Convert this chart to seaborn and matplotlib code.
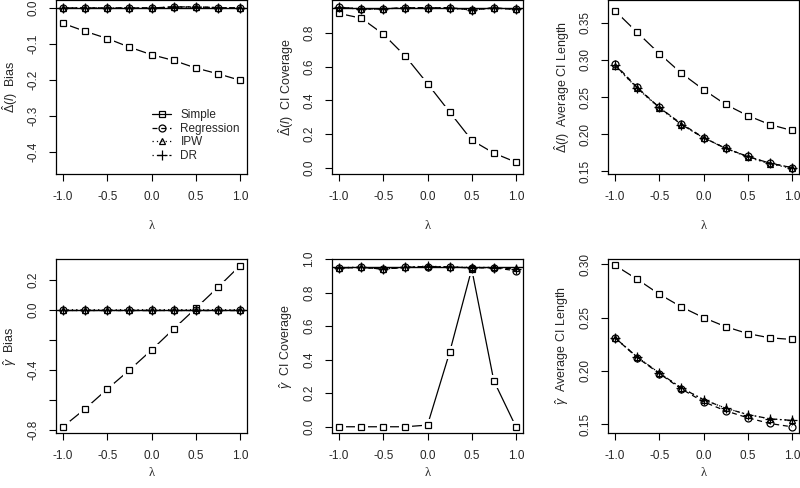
import numpy as np
import pandas as pd
import matplotlib
matplotlib.use("Agg")
import matplotlib.pyplot as plt
import seaborn as sns

lam = [-1.0, -0.75, -0.5, -0.25, 0.0, 0.25, 0.5, 0.75, 1.0]
methods = ["Simple", "Regression", "IPW", "DR"]

# Delta(l) bias
d_bias_simple = [-0.043, -0.065, -0.085, -0.109, -0.130, -0.146, -0.167, -0.183, -0.201]
d_bias_reg = [0.0, 0.0, 0.0, 0.0, 0.0, 0.003, 0.003, 0.001, 0.0]
d_bias_ipw = [0.0, 0.0, 0.0, 0.0, 0.0, 0.002, 0.002, 0.001, 0.0]
d_bias_dr = [0.0, 0.0, 0.0, 0.0, 0.0, 0.003, 0.003, 0.001, 0.0]

# Delta(l) CI coverage
d_cov_simple = [0.918, 0.890, 0.795, 0.663, 0.500, 0.331, 0.163, 0.086, 0.032]
d_cov_reg = [0.955, 0.945, 0.945, 0.952, 0.952, 0.952, 0.940, 0.952, 0.943]
d_cov_ipw = [0.953, 0.944, 0.946, 0.951, 0.951, 0.950, 0.938, 0.950, 0.942]
d_cov_dr = [0.955, 0.945, 0.945, 0.952, 0.952, 0.951, 0.940, 0.951, 0.943]

# Delta(l) average CI length
d_len_simple = [0.366, 0.337, 0.3085, 0.282, 0.260, 0.240, 0.225, 0.213, 0.205]
d_len_reg = [0.294, 0.263, 0.236, 0.214, 0.1955, 0.181, 0.170, 0.161, 0.155]
d_len_ipw = [0.292, 0.262, 0.235, 0.213, 0.195, 0.181, 0.169, 0.160, 0.154]
d_len_dr = [0.293, 0.262, 0.236, 0.213, 0.195, 0.181, 0.170, 0.161, 0.155]

# gamma bias
g_bias_simple = [-0.777, -0.658, -0.527, -0.401, -0.268, -0.128, 0.009, 0.148, 0.292]
g_bias_reg = [0.0, 0.0, 0.0, 0.0, 0.0, 0.0, 0.0, 0.0, 0.0]
g_bias_ipw = [0.0, 0.0, 0.0, 0.0, 0.0, 0.001, 0.0, 0.0, 0.0]
g_bias_dr = [0.0, 0.0, 0.0, 0.0, 0.0, 0.0, 0.0, 0.0, 0.0]

# gamma CI coverage
g_cov_simple = [0.0, 0.0, 0.0, 0.0, 0.01, 0.443, 0.940, 0.274, 0.0]
g_cov_reg = [0.945, 0.950, 0.940, 0.950, 0.955, 0.952, 0.947, 0.948, 0.930]
g_cov_ipw = [0.948, 0.952, 0.942, 0.952, 0.957, 0.953, 0.950, 0.950, 0.945]
g_cov_dr = [0.946, 0.950, 0.940, 0.950, 0.956, 0.952, 0.948, 0.949, 0.940]

# gamma average CI length
g_len_simple = [0.299, 0.286, 0.272, 0.260, 0.250, 0.2415, 0.235, 0.231, 0.2295]
g_len_reg = [0.231, 0.2125, 0.1975, 0.183, 0.171, 0.1625, 0.156, 0.1506, 0.1475]
g_len_ipw = [0.231, 0.213, 0.198, 0.184, 0.173, 0.165, 0.159, 0.155, 0.1535]
g_len_dr = [0.231, 0.213, 0.198, 0.184, 0.173, 0.165, 0.159, 0.155, 0.1535]

sns.set_style("ticks")
plt.rcParams["font.family"] = ["Liberation Sans", "DejaVu Sans"]
plt.rcParams["mathtext.fontset"] = "custom"
plt.rcParams["mathtext.rm"] = "Liberation Sans"
plt.rcParams["mathtext.it"] = "Liberation Sans:italic"

styles = {
    "Simple": dict(ls="-", marker="s"),
    "Regression": dict(ls=(0, (4, 3)), marker="o"),
    "IPW": dict(ls=(0, (1, 2.5)), marker="^"),
    "DR": dict(ls=(0, (1, 2.5, 4, 2.5)), marker="+"),
}

panels = [
    ([d_bias_simple, d_bias_reg, d_bias_ipw, d_bias_dr], r"$\hat{\Delta}(l)$  Bias",
     (-0.462, 0.023), [-0.4, -0.3, -0.2, -0.1, 0.0], ["-0.4", "-0.3", "-0.2", "-0.1", "0.0"], 0.0),
    ([d_cov_simple, d_cov_reg, d_cov_ipw, d_cov_dr], r"$\hat{\Delta}(l)$  CI Coverage",
     (-0.0385, 1.0), [0.0, 0.2, 0.4, 0.6, 0.8], ["0.0", "0.2", "0.4", "0.6", "0.8"], 0.95),
    ([d_len_simple, d_len_reg, d_len_ipw, d_len_dr], r"$\hat{\Delta}(l)$  Average CI Length",
     (0.1464, 0.381), [0.15, 0.20, 0.25, 0.30, 0.35], ["0.15", "0.20", "0.25", "0.30", "0.35"], None),
    ([g_bias_simple, g_bias_reg, g_bias_ipw, g_bias_dr], r"$\hat{\gamma}$  Bias",
     (-0.821, 0.337), [-0.8, -0.6, -0.4, -0.2, 0.0, 0.2], ["-0.8", "", "-0.4", "", "0.0", "0.2"], 0.0),
    ([g_cov_simple, g_cov_reg, g_cov_ipw, g_cov_dr], r"$\hat{\gamma}$  CI Coverage",
     (-0.039, 1.0), [0.0, 0.2, 0.4, 0.6, 0.8, 1.0], ["0.0", "0.2", "0.4", "0.6", "0.8", "1.0"], 0.95),
    ([g_len_simple, g_len_reg, g_len_ipw, g_len_dr], r"$\hat{\gamma}$  Average CI Length",
     (0.1414, 0.305), [0.15, 0.20, 0.25, 0.30], ["0.15", "0.20", "0.25", "0.30"], None),
]

fig = plt.figure(figsize=(8, 4.88), dpi=100)
W, H = 800, 488
lefts = [56, 332, 608]
bottoms = [174, 433.3]
xlab_y = [-0.298, -0.228]
aw, ah = 191, 174.3

for i, (series, ylab, ylim, yt, ytl, href) in enumerate(panels):
    r, c = divmod(i, 3)
    ax = fig.add_axes([lefts[c] / W, 1 - bottoms[r] / H, aw / W, ah / H])
    if href is not None:
        ax.axhline(href, color="black", lw=1.0, zorder=2)

    # Simple: R type="b" look -> line with small gaps around the squares
    simple = series[0]
    sns.lineplot(x=lam, y=simple, ax=ax, color="black", lw=0.9, zorder=1.5)
    sns.lineplot(x=lam, y=simple, ax=ax, color="white", linestyle="none", marker="s",
                 markersize=8.5, markerfacecolor="white", markeredgecolor="white", zorder=1.6)
    sns.lineplot(x=lam, y=simple, ax=ax, color="black", linestyle="none", marker="s",
                 markersize=5, markerfacecolor="none", markeredgecolor="black",
                 markeredgewidth=0.9, zorder=1.7)

    for name, vals in zip(methods[1:], series[1:]):
        st = styles[name]
        sns.lineplot(x=lam, y=vals, ax=ax, color="black", lw=0.9, linestyle=st["ls"],
                     marker=st["marker"], markersize=5 if name != "DR" else 7,
                     markerfacecolor="none", markeredgecolor="black", markeredgewidth=0.9,
                     zorder=2)
    ax.set_xlim(-1.08, 1.08)
    ax.set_ylim(*ylim)
    ax.set_xticks([-1.0, -0.5, 0.0, 0.5, 1.0])
    ax.set_xticklabels(["-1.0", "-0.5", "0.0", "0.5", "1.0"])
    ax.set_yticks(yt)
    ax.set_yticklabels(ytl, rotation=90, va="center")
    ax.tick_params(axis="both", direction="out", length=5, width=0.8, labelsize=8.5, pad=7, color="black")
    for sp in ax.spines.values():
        sp.set_visible(True)
        sp.set_color("black")
        sp.set_linewidth(0.9)
    ax.set_xlabel("λ", fontsize=9, family=["Liberation Serif", "DejaVu Serif"], va="center")
    ax.set_ylabel(ylab, fontsize=9, va="center")
    ax.xaxis.set_label_coords(0.5, xlab_y[r])
    ax.yaxis.set_label_coords(-46 / aw, 0.5)

    if i == 0:
        handles = []
        for name in methods:
            st = styles[name]
            h, = ax.plot([], [], color="black", lw=0.9, linestyle=st["ls"], marker=st["marker"],
                         markersize=5 if name != "DR" else 7, markerfacecolor="none",
                         markeredgecolor="black", markeredgewidth=0.9, label=name)
            handles.append(h)
        ax.legend(handles=handles, loc="lower right", bbox_to_anchor=(1.0, 0.03), frameon=False,
                  fontsize=8.5, handlelength=1.6, handletextpad=0.8, labelspacing=0.12,
                  borderaxespad=0.2)
    elif ax.get_legend() is not None:
        ax.get_legend().remove()

fig.savefig("out.png", dpi=100)
